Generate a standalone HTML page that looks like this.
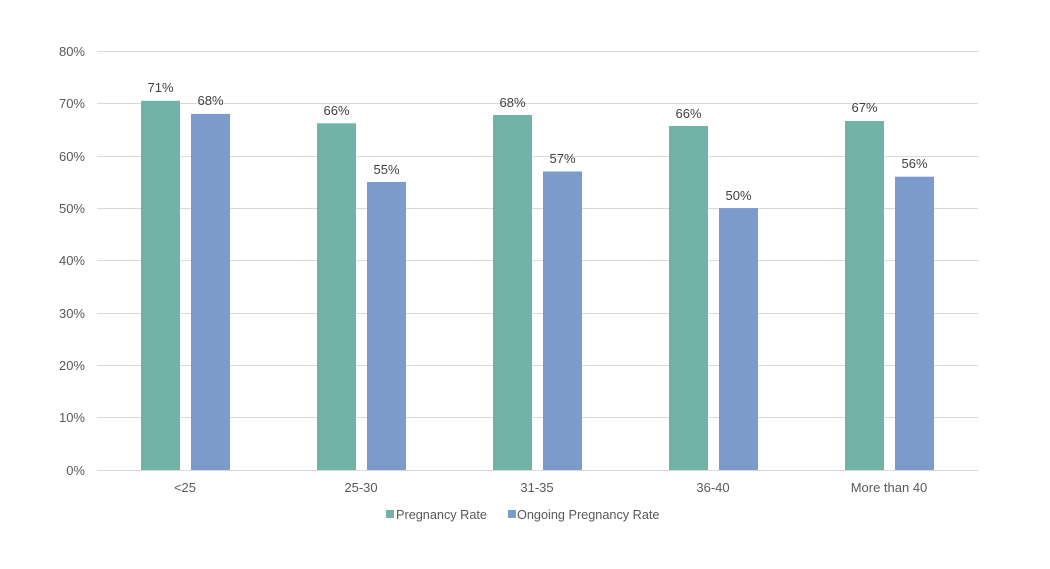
<!DOCTYPE html>
<html><head><meta charset="utf-8"><style>
body{margin:0;background:#fff;}
svg{display:block;font-family:"Liberation Sans",sans-serif;}
</style></head><body>
<svg width="1050" height="569" viewBox="0 0 1050 569">
<g stroke="#d9d9d9" stroke-width="1">
<line x1="97" x2="978" y1="51.5" y2="51.5"/>
<line x1="97" x2="978" y1="103.5" y2="103.5"/>
<line x1="97" x2="978" y1="156.5" y2="156.5"/>
<line x1="97" x2="978" y1="208.5" y2="208.5"/>
<line x1="97" x2="978" y1="260.5" y2="260.5"/>
<line x1="97" x2="978" y1="313.5" y2="313.5"/>
<line x1="97" x2="978" y1="365.5" y2="365.5"/>
<line x1="97" x2="978" y1="417.5" y2="417.5"/>
<line x1="97" x2="978" y1="470.5" y2="470.5"/>
</g>
<g font-size="13" fill="#595959" text-anchor="end">
<text x="85" y="56">80%</text><text x="85" y="108">70%</text><text x="85" y="161">60%</text>
<text x="85" y="213">50%</text><text x="85" y="265">40%</text><text x="85" y="318">30%</text>
<text x="85" y="370">20%</text><text x="85" y="422">10%</text><text x="85" y="475">0%</text>
</g>
<g fill="#72b3a7">
<rect x="141" y="100.8" width="39" height="369.2"/>
<rect x="317" y="123.3" width="39" height="346.7"/>
<rect x="493" y="115" width="39" height="355"/>
<rect x="669" y="126" width="39" height="344"/>
<rect x="845" y="121" width="39" height="349"/>
</g>
<g fill="#7a9bcb">
<rect x="191" y="113.9" width="39" height="356.1"/>
<rect x="367" y="182" width="39" height="288"/>
<rect x="543" y="171.5" width="39" height="298.5"/>
<rect x="719" y="208.1" width="39" height="261.9"/>
<rect x="895" y="176.7" width="39" height="293.3"/>
</g>
<g font-size="13" fill="#404040" text-anchor="middle">
<text x="160.5" y="92">71%</text><text x="210.5" y="105">68%</text>
<text x="336.5" y="115">66%</text><text x="386.5" y="174">55%</text>
<text x="512.5" y="107">68%</text><text x="562.5" y="163">57%</text>
<text x="688.5" y="118">66%</text><text x="738.5" y="200">50%</text>
<text x="864.5" y="112">67%</text><text x="914.5" y="168">56%</text>
</g>
<g font-size="13" fill="#595959" text-anchor="middle">
<text x="185" y="492">&lt;25</text><text x="361" y="492">25-30</text>
<text x="537" y="492">31-35</text><text x="713" y="492">36-40</text>
<text x="889" y="492">More than 40</text>
</g>
<rect x="386" y="510" width="8" height="8" fill="#72b3a7"/>
<text x="396" y="519" font-size="12.7" fill="#595959">Pregnancy Rate</text>
<rect x="508" y="510" width="8" height="8" fill="#7a9bcb"/>
<text x="517" y="519" font-size="12.7" fill="#595959">Ongoing Pregnancy Rate</text>
</svg>
</body></html>
